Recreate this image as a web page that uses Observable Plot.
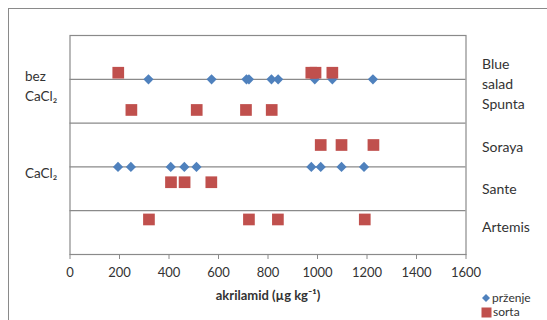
<!DOCTYPE html>
<html><head><meta charset="utf-8">
<script src="https://cdn.jsdelivr.net/npm/d3@7"></script>
<script src="https://cdn.jsdelivr.net/npm/@observablehq/plot@0.6"></script>
<style>
body{margin:0;background:#fff;font-family:Lato,"DejaVu Sans",sans-serif;}
#wrap{position:relative;width:547px;height:320px;overflow:hidden;}
#border{position:absolute;left:8px;top:8px;width:700px;height:500px;border-top:1.5px solid #8a8a8a;border-left:1.5px solid #8a8a8a;}
#chart{position:absolute;left:0;top:0;}
#legend{position:absolute;left:481px;top:291px;font-size:12px;color:#333;}
#legend div{display:flex;align-items:center;height:14px;line-height:14px;}
#legend span{line-height:14px;}
#legend svg{margin-right:1px;}
</style></head><body>
<div id="wrap"><div id="border"></div><div id="chart"></div><div id="legend"></div></div>
<script>
// x axis ticks
const xTicks = [0, 200, 400, 600, 800, 1000, 1200, 1400, 1600];
const xLabel = "akrilamid (µg kg⁻¹)";

// group rows (prženje series, diamonds)
const grupe = ["bez\nCaCl₂", "CaCl₂"];
const grupeY = [8, 4];
const przenjeBezCaCl2 = [317, 572, 713, 723, 814, 841, 989, 1060, 1224];
const przenjeCaCl2 = [194, 246, 407, 462, 511, 975, 1013, 1097, 1188];

// varieties (sorta series, squares)
const sorte = ["Blue\nsalad", "Spunta", "Soraya", "Sante", "Artemis"];
const sorteY = [8.3, 6.6, 5.0, 3.3, 1.6];
const sortaBlueSalad = [195, 975, 992, 1060];
const sortaSpunta = [248, 512, 711, 815];
const sortaSoraya = [1013, 1097, 1226];
const sortaSante = [408, 463, 571];
const sortaArtemis = [319, 723, 840, 1191];

const seriesNames = ["prženje", "sorta"];
const colors = ["#4F81BD", "#C0504D"];

const przenje = [
  ...przenjeBezCaCl2.map(v => ({x: v, y: grupeY[0]})),
  ...przenjeCaCl2.map(v => ({x: v, y: grupeY[1]}))
];
const sortaVals = [sortaBlueSalad, sortaSpunta, sortaSoraya, sortaSante, sortaArtemis];
const sorta = sortaVals.flatMap((arr, i) => arr.map(v => ({x: v, y: sorteY[i]})));

const grid = "#8a8a8a";
const txt = "#333";
const labelDy = [0, -7, 0, 5, 6];

const chart = Plot.plot({
  width: 547,
  height: 320,
  marginLeft: 69.5,
  marginRight: 81.5,
  marginTop: 35,
  marginBottom: 66,
  style: {background: "transparent", fontFamily: "Lato, 'DejaVu Sans', sans-serif"},
  x: {domain: [0, 1600], axis: null},
  y: {domain: [0, 10], axis: null},
  marks: [
    Plot.gridY([2, 4, 6, 8], {stroke: grid, strokeOpacity: 1, strokeWidth: 1.2}),
    Plot.frame({stroke: grid, strokeWidth: 1.2}),
    Plot.axisX(xTicks, {tickSize: 5, tickPadding: 8, fontSize: 13, stroke: grid, fill: txt, label: null, tickFormat: d => String(d)}),
    Plot.text([xLabel], {frameAnchor: "bottom", dy: 45, fontSize: 13, fontWeight: "bold", fill: txt}),
    Plot.dot(przenje, {x: "x", y: "y", symbol: "diamond2", r: 4.6, fill: colors[0], stroke: "none"}),
    Plot.dot(sorta, {x: "x", y: "y", symbol: "square", r: 6.6, fill: colors[1], stroke: "none"}),
    Plot.text(grupe, {y: (d, i) => grupeY[i], text: d => d, frameAnchor: "left", dx: -45, dy: 5, textAnchor: "start", fontSize: 13.5, lineHeight: 1.5, fill: txt}),
    ...sorte.map((s, i) => Plot.text([s], {y: () => sorteY[i], text: d => d, frameAnchor: "right", dx: 16, dy: labelDy[i], textAnchor: "start", fontSize: 14, lineHeight: 1.45, fill: txt}))
  ]
});
document.getElementById("chart").append(chart);

// legend
const legend = document.getElementById("legend");
seriesNames.forEach((name, i) => {
  const row = document.createElement("div");
  const sym = i === 0
    ? `<svg width="10" height="10"><path d="M5,1L9,5L5,9L1,5Z" fill="${colors[0]}"/></svg>`
    : `<svg width="11" height="11"><rect x="0.5" y="0.5" width="10" height="10" fill="${colors[1]}"/></svg>`;
  row.innerHTML = sym + `<span>${name}</span>`;
  legend.append(row);
});
</script>
</body></html>
